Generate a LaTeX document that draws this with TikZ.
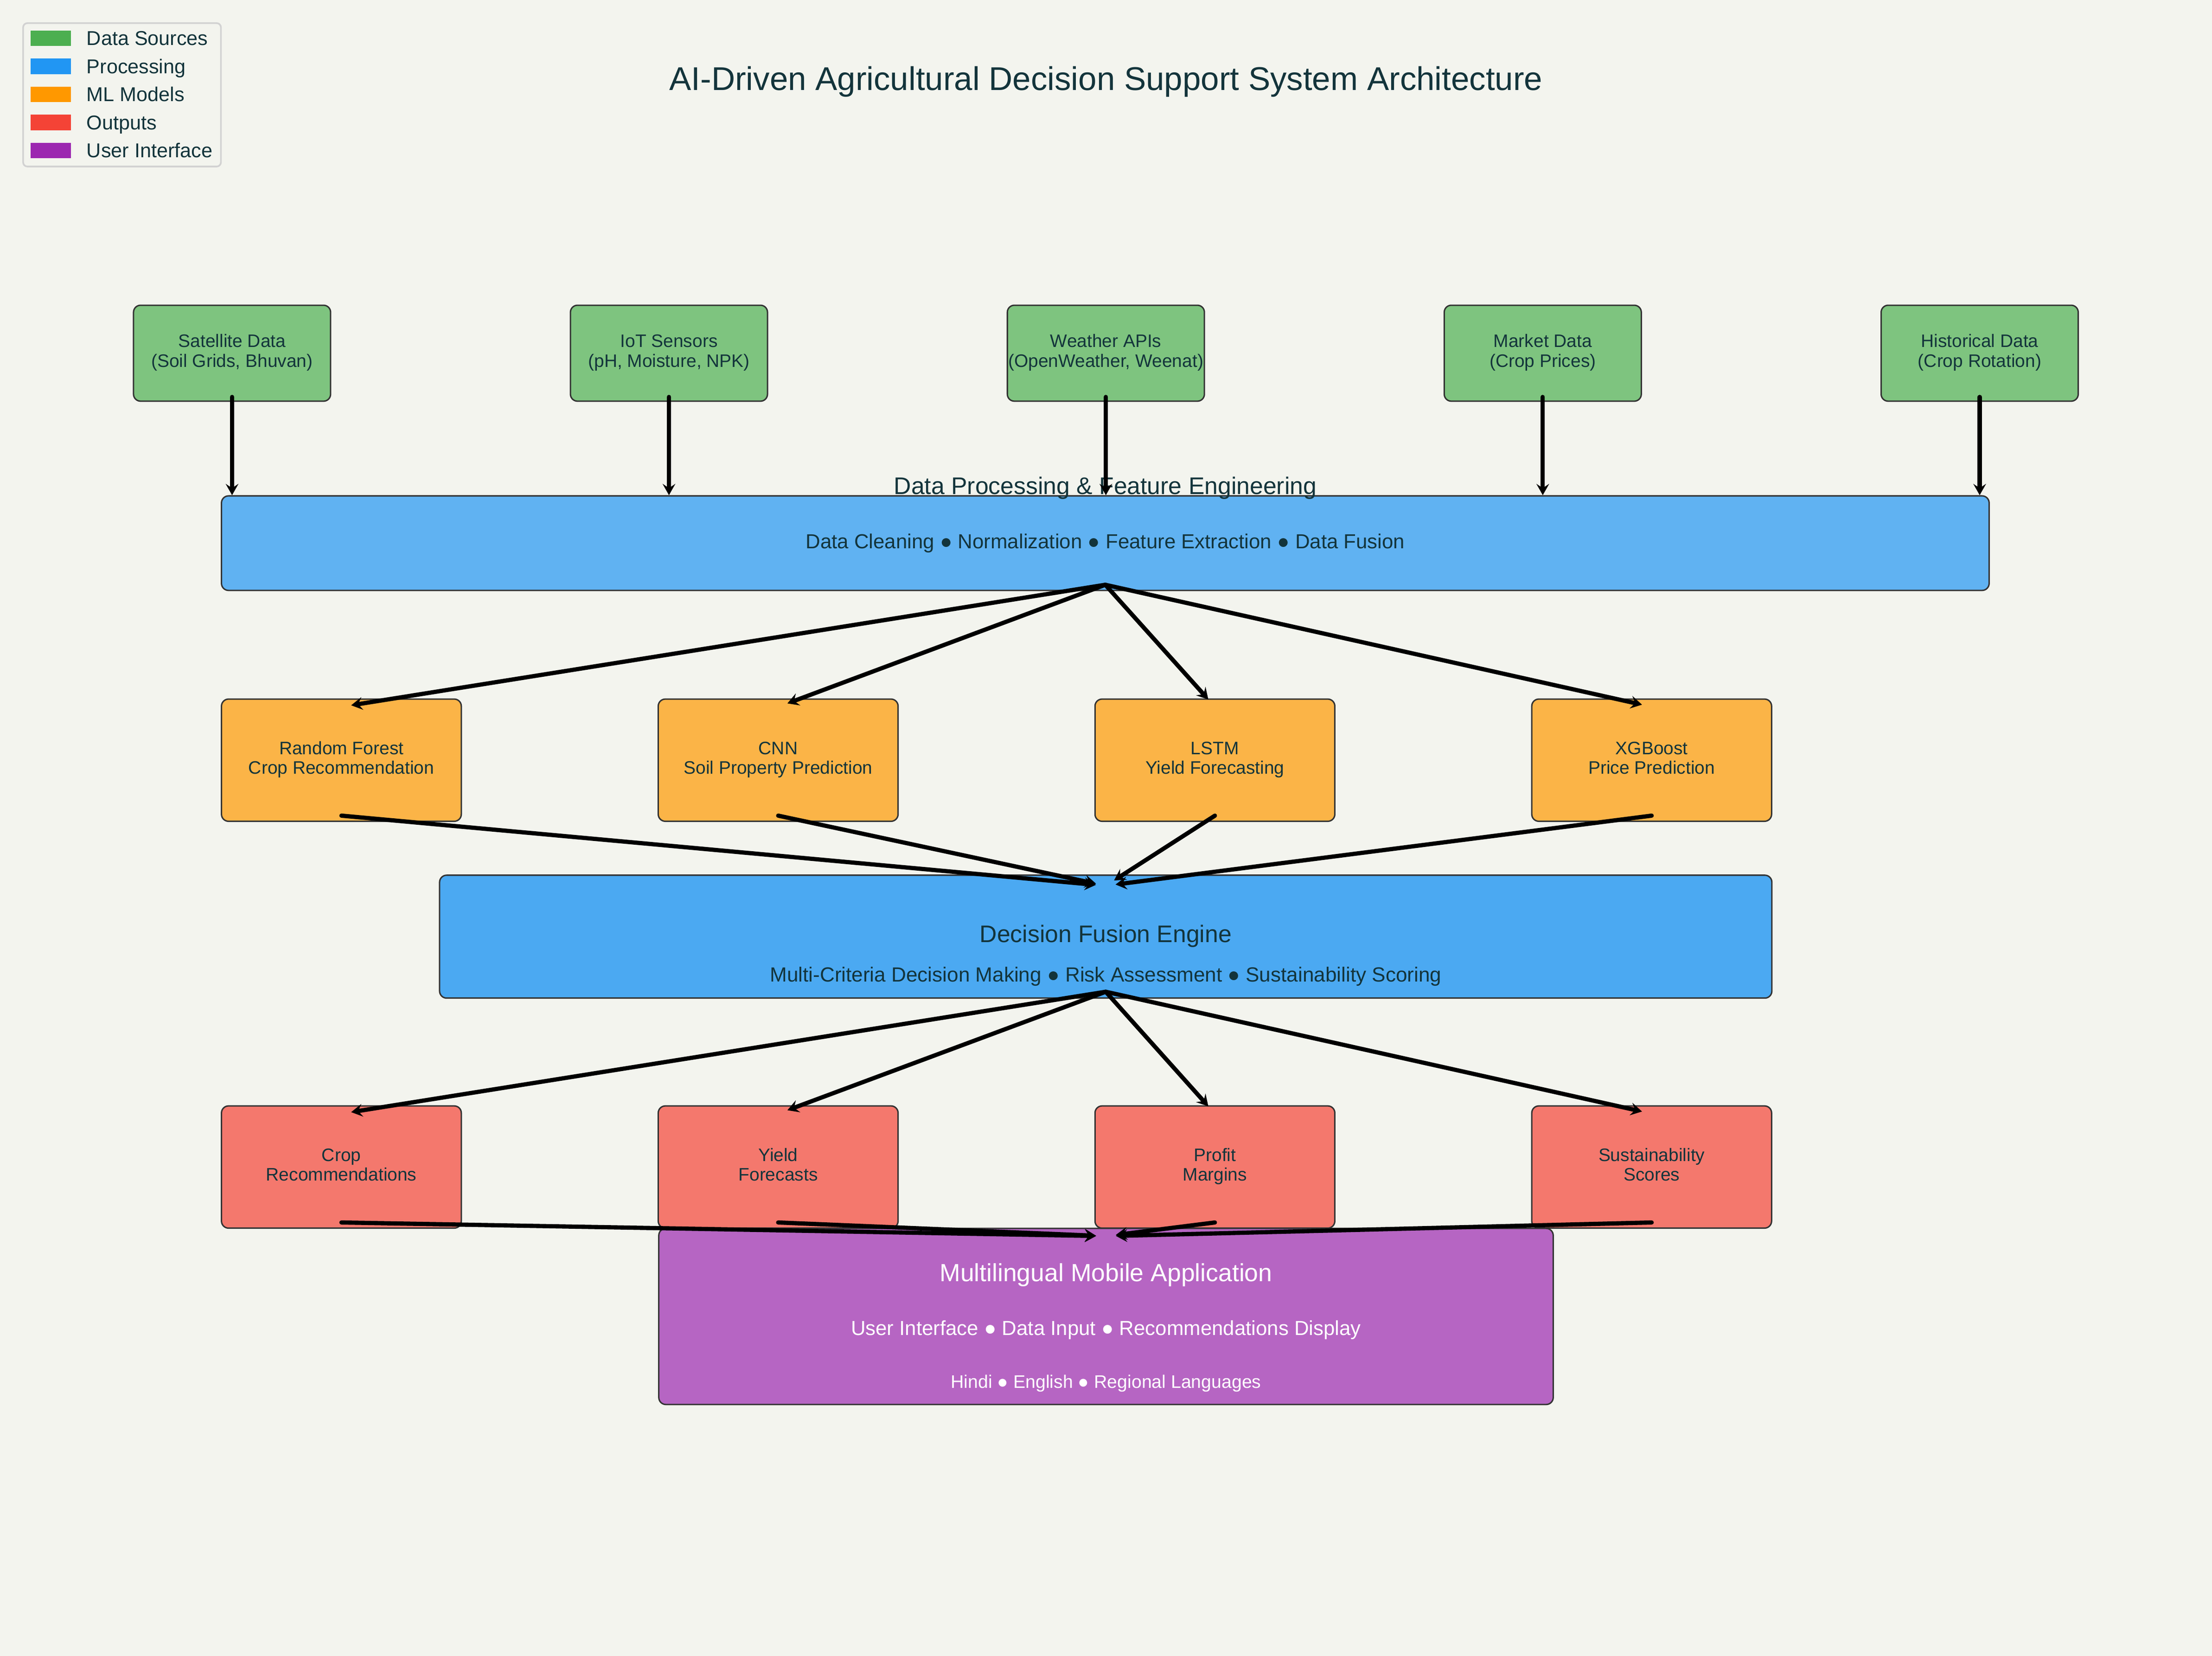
\documentclass[tikz,border=0pt]{standalone}
\usepackage{fontspec}
\setmainfont{Liberation Sans}
\usetikzlibrary{positioning, arrows.meta, calc}

\definecolor{bgcol}{HTML}{F3F4EE}
\definecolor{inkcol}{HTML}{13343B}
\definecolor{edgecol}{HTML}{333333}
\definecolor{legline}{HTML}{D2D2D2}
\definecolor{srcgreen}{HTML}{4CAF50}
\definecolor{procblue}{HTML}{2196F3}
\definecolor{mlorange}{HTML}{FF9800}
\definecolor{outred}{HTML}{F44336}
\definecolor{uipurple}{HTML}{9C27B0}
\definecolor{srcfill}{RGB}{126,196,127}
\definecolor{procfill}{RGB}{96,178,242}
\definecolor{fusefill}{RGB}{75,169,242}
\definecolor{mlfill}{RGB}{251,180,71}
\definecolor{outfill}{RGB}{244,120,109}
\definecolor{uifill}{RGB}{182,101,195}

\tikzset{
  box/.style={draw=edgecol, line width=1pt, rounded corners=5pt, inner sep=0pt,
    align=center, text=inkcol, font=\fontsize{12.8}{14}\selectfont},
  twoline/.style={box, text height=23.8pt, text depth=4.2pt},
  srcbox/.style={twoline, fill=srcfill, minimum width=139.7pt, minimum height=68pt},
  modelbox/.style={twoline, fill=mlfill, minimum width=170pt, minimum height=86.6pt},
  outbox/.style={twoline, fill=outfill, minimum width=170pt, minimum height=86.6pt},
  swatch/.style={minimum width=28.7pt, minimum height=11pt, inner sep=0pt},
  legtext/.style={inner sep=0pt, text height=10pt, text depth=0pt, text=inkcol,
    font=\fontsize{14.2}{16}\selectfont},
  boxtext/.style={inner sep=0pt, anchor=base, text=inkcol},
  flow/.style={-{Stealth[length=8pt, width=9pt, inset=3pt]}, line width=3pt, line cap=round},
}

\begin{document}
\begin{tikzpicture}[x=1pt, y=1pt]
    \path[use as bounding box, fill=bgcol] (0,0) rectangle (1568,-1173.5);

    \node[draw=legline, line width=1.2pt, rounded corners=3pt, minimum width=140.2pt, minimum height=101.6pt] (legend) at (86.5,-67.2) {};
    \node[swatch, fill=srcgreen] (lg1) at (36,-27.2) {};
    \node[swatch, fill=procblue, below=8.45pt of lg1] (lg2) {};
    \node[swatch, fill=mlorange, below=8.45pt of lg2] (lg3) {};
    \node[swatch, fill=outred, below=8.45pt of lg3] (lg4) {};
    \node[swatch, fill=uipurple, below=8.45pt of lg4] (lg5) {};
    \node[legtext, right=10.7pt of lg1] {Data Sources};
    \node[legtext, right=10.7pt of lg2] {Processing};
    \node[legtext, right=10.7pt of lg3] {ML Models};
    \node[legtext, right=10.7pt of lg4] {Outputs};
    \node[legtext, right=10.7pt of lg5] {User Interface};

    \node[boxtext, font=\fontsize{23.3}{27}\selectfont] (title) at (784,-63.8) {AI-Driven Agricultural Decision Support System Architecture};

    \node[srcbox] (sat) at (164.5,-250.3) {Satellite Data\\(Soil Grids, Bhuvan)};
    \node[srcbox] (iot) at (474.2,-250.3) {IoT Sensors\\(pH, Moisture, NPK)};
    \node[srcbox] (wx) at (783.9,-250.3) {Weather APIs\\(OpenWeather, Weenat)};
    \node[srcbox] (mkt) at (1093.6,-250.3) {Market Data\\(Crop Prices)};
    \node[srcbox] (hist) at (1403.3,-250.3) {Historical Data\\(Crop Rotation)};

    \node[box, fill=procfill, minimum width=1253pt, minimum height=67pt, font=\fontsize{14.4}{16}\selectfont] (proc) at (783.5,-384.9) {Data Cleaning ● Normalization ● Feature Extraction ● Data Fusion};
    \node[boxtext, font=\fontsize{17}{20}\selectfont] (proctitle) at ($(proc.north)+(0,0.6)$) {Data Processing \& Feature Engineering};

    \node[modelbox] (rf) at (242,-538.7) {Random Forest\\Crop Recommendation};
    \node[modelbox] (cnn) at (551.6,-538.7) {CNN\\Soil Property Prediction};
    \node[modelbox] (lstm) at (861.2,-538.7) {LSTM\\Yield Forecasting};
    \node[modelbox] (xgb) at (1170.8,-538.7) {XGBoost\\Price Prediction};

    \node[box, fill=fusefill, minimum width=944.4pt, minimum height=87.1pt] (fuse) at (783.8,-663.75) {};
    \node[boxtext, font=\fontsize{17}{20}\selectfont] (fusetitle) at ($(fuse.center)+(0,-4.1)$) {Decision Fusion Engine};
    \node[boxtext, font=\fontsize{14.5}{16}\selectfont] (fusesub) at ($(fuse.center)+(0,-32)$) {Multi-Criteria Decision Making ● Risk Assessment ● Sustainability Scoring};

    \node[outbox] (crop) at (242,-827) {Crop\\Recommendations};
    \node[outbox] (yield) at (551.6,-827) {Yield\\Forecasts};
    \node[outbox] (profit) at (861.2,-827) {Profit\\Margins};
    \node[outbox] (sust) at (1170.8,-827) {Sustainability\\Scores};

    \node[box, fill=uifill, minimum width=634pt, minimum height=124.8pt] (app) at (784,-932.9) {};
    \node[boxtext, text=white, font=\fontsize{17.6}{20}\selectfont] (apptitle) at ($(app.center)+(0,24.7)$) {Multilingual Mobile Application};
    \node[boxtext, text=white, font=\fontsize{14.4}{16}\selectfont] (appsub) at ($(app.center)+(0,-13.4)$) {User Interface ● Data Input ● Recommendations Display};
    \node[boxtext, text=white, font=\fontsize{12.9}{14}\selectfont] (applang) at ($(app.center)+(0,-50.9)$) {Hindi ● English ● Regional Languages};

    \draw
        ($(sat.south)+(0,3.5)$) edge[flow] (sat.south |- proc.north)
        ($(iot.south)+(0,3.5)$) edge[flow] (iot.south |- proc.north)
        ($(wx.south)+(0,3.5)$) edge[flow] (wx.south |- proc.north)
        ($(mkt.south)+(0,3.5)$) edge[flow] (mkt.south |- proc.north)
        ($(hist.south)+(0,3.5)$) edge[flow] (hist.south |- proc.north)
        ;
    \draw
        ($(proc.south)+(0,4.5)$) edge[flow, shorten >=7pt] ($(rf.north)+(0,-6)$)
        ($(proc.south)+(0,4.5)$) edge[flow, shorten >=7pt] ($(cnn.north)+(0,-6)$)
        ($(proc.south)+(0,4.5)$) edge[flow, shorten >=7pt] ($(lstm.north)+(0,-6)$)
        ($(proc.south)+(0,4.5)$) edge[flow, shorten >=7pt] ($(xgb.north)+(0,-6)$)
        ($(rf.south)+(0,4.5)$) edge[flow, shorten >=7pt] ($(fuse.north)+(0,-8)$)
        ($(cnn.south)+(0,4.5)$) edge[flow, shorten >=7pt] ($(fuse.north)+(0,-8)$)
        ($(lstm.south)+(0,4.5)$) edge[flow, shorten >=7pt] ($(fuse.north)+(0,-8)$)
        ($(xgb.south)+(0,4.5)$) edge[flow, shorten >=7pt] ($(fuse.north)+(0,-8)$)
        ;
    \draw
        ($(fuse.south)+(0,5)$) edge[flow, shorten >=7pt] ($(crop.north)+(0,-6)$)
        ($(fuse.south)+(0,5)$) edge[flow, shorten >=7pt] ($(yield.north)+(0,-6)$)
        ($(fuse.south)+(0,5)$) edge[flow, shorten >=7pt] ($(profit.north)+(0,-6)$)
        ($(fuse.south)+(0,5)$) edge[flow, shorten >=7pt] ($(sust.north)+(0,-6)$)
        ($(crop.south)+(0,4.5)$) edge[flow, shorten >=7pt] ($(app.north)+(0,-6)$)
        ($(yield.south)+(0,4.5)$) edge[flow, shorten >=7pt] ($(app.north)+(0,-6)$)
        ($(profit.south)+(0,4.5)$) edge[flow, shorten >=7pt] ($(app.north)+(0,-6)$)
        ($(sust.south)+(0,4.5)$) edge[flow, shorten >=7pt] ($(app.north)+(0,-6)$)
        ;
\end{tikzpicture}
\end{document}
